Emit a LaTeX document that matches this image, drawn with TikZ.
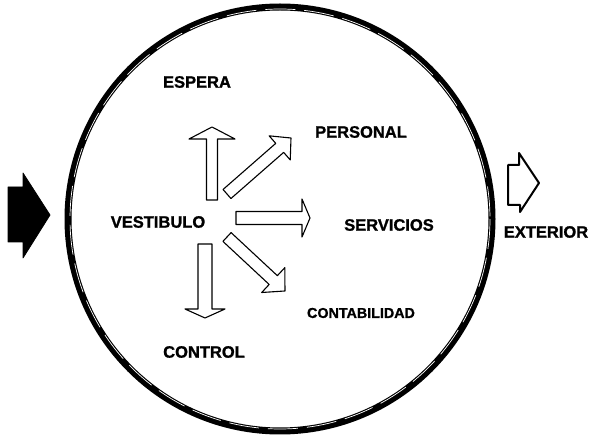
\documentclass[tikz,border=0pt]{standalone}
\usepackage{fontspec}
\setmainfont{Liberation Sans}[BoldFeatures={FakeBold=1.2}]
\usetikzlibrary{calc}
\tikzset{
  lbl/.style={font=\bfseries\fontsize{16.5}{18}\selectfont, inner sep=0pt, anchor=center},
  ring/.style={draw=black, line width=7pt},
  ringgap/.style={draw=white, line width=0.7pt, dash pattern=on 30pt off 9pt},
  arrowline/.style={draw=black, line width=1.1pt, line join=round, fill=white},
  bigarrow/.style={fill=black, draw=black, line width=0.8pt, line join=round},
  outarrow/.style={draw=black, line width=2pt, fill=white, line join=round}
}
% #1 tail, #2 tip, #3 half shaft width, #4 half head width, #5 head length (pt)
\newcommand\blockarrow[5]{%
  \draw[arrowline] let \p1=($(#2)-(#1)$), \n1={atan2(\y1,\x1)}, \n2={veclen(\x1,\y1)} in
   [shift={(#1)}, rotate=\n1]
   (0pt,#3pt) -- (\n2-#5pt,#3pt) -- (\n2-#5pt,#4pt) -- (\n2,0pt) -- (\n2-#5pt,-#4pt)
   -- (\n2-#5pt,-#3pt) -- (0pt,-#3pt) -- cycle;}
\begin{document}
\begin{tikzpicture}[x=1pt,y=-1pt]
\useasboundingbox (0,0) rectangle (592,435);
% main circle
\coordinate (c) at (280,219);
\draw[ring] (c) circle[radius=212];
\draw[ringgap] (c) circle[radius=210];
% labels
\node[lbl] (vest) at (158,222) {VESTIBULO};
\node[lbl] (espera) at (197,82) {ESPERA};
\node[lbl] (personal) at (361,132) {PERSONAL};
\node[lbl] (servicios) at (389,225) {SERVICIOS};
\node[lbl, font=\bfseries\fontsize{14.3}{16}\selectfont] (contab) at (361,313) {CONTABILIDAD};
\node[lbl] (control) at (204,352) {CONTROL};
\node[lbl] (exterior) at (546,232) {EXTERIOR};
% arrow end points
\coordinate (upT) at (212,200);  \coordinate (upH) at (212,127);
\coordinate (neT) at (227,194);  \coordinate (neH) at (291,138);
\coordinate (eT) at (236,218);   \coordinate (eH) at (310,218);
\coordinate (seT) at (227,237);  \coordinate (seH) at (285,291);
\coordinate (dnT) at (205,244);  \coordinate (dnH) at (205,318);
\blockarrow{upT}{upH}{5.5}{23}{12}
\blockarrow{neT}{neH}{6}{16}{15}
\blockarrow{eT}{eH}{6.5}{19}{8}
\blockarrow{seT}{seH}{6}{17}{16}
\blockarrow{dnT}{dnH}{7}{20}{9}
% entrance arrow (left)
\filldraw[bigarrow] (8,187) -- (23,187) -- (23,173) -- (50,215) -- (23,258) -- (23,242) -- (8,242) -- cycle;
% exit arrow (right)
\draw[outarrow] (508,165) -- (519,165) -- (519,153) -- (539,183) -- (520,212) -- (520,205) -- (508,205) -- cycle;
\end{tikzpicture}
\end{document}
